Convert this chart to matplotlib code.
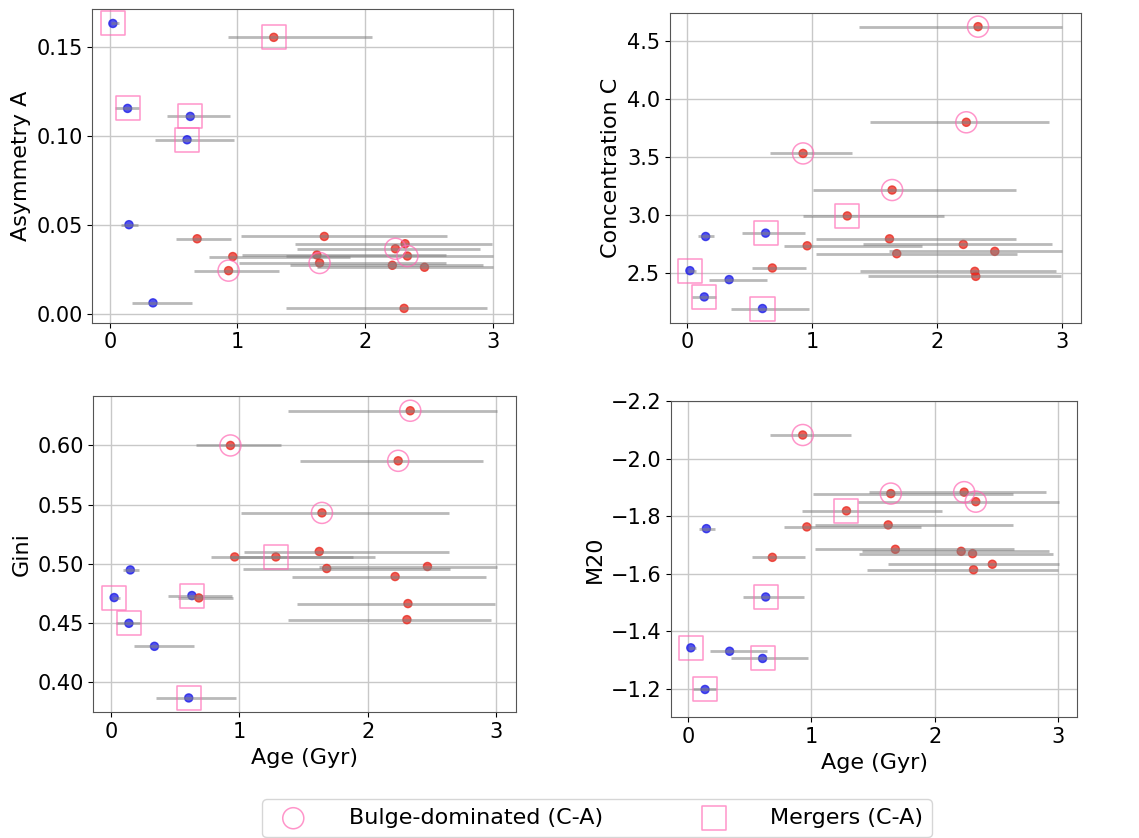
import matplotlib.pyplot as plt

# galaxy ages (Gyr) and asymmetric age errors
age = [0.024, 0.139, 0.150, 0.338, 0.605, 0.630,
       0.684, 0.930, 0.963, 1.284, 1.622, 1.643, 1.680,
       2.213, 2.237, 2.305, 2.313, 2.331, 2.465]
age_lo = [0.012, 0.100, 0.060, 0.162, 0.255, 0.185,
          0.162, 0.267, 0.187, 0.357, 0.590, 0.632, 0.650,
          0.803, 0.768, 0.923, 0.861, 0.953, 0.845]
age_hi = [0.045, 0.090, 0.070, 0.305, 0.370, 0.313,
          0.266, 0.392, 0.921, 0.771, 1.010, 0.989, 0.960,
          0.707, 0.661, 0.653, 0.682, 0.674, 0.540]

asym = [0.1634, 0.1157, 0.0504, 0.0065, 0.0981, 0.1112,
        0.0425, 0.0246, 0.0325, 0.1556, 0.0334, 0.0289, 0.0438,
        0.0276, 0.0369, 0.0034, 0.0397, 0.0328, 0.0265]
conc = [2.520, 2.294, 2.814, 2.443, 2.194, 2.843,
        2.543, 3.529, 2.734, 2.991, 2.794, 3.214, 2.666,
        2.746, 3.797, 2.514, 2.471, 4.620, 2.686]
gini = [0.4712, 0.4494, 0.4946, 0.4299, 0.3862, 0.4729,
        0.4709, 0.6000, 0.5056, 0.5056, 0.5102, 0.5429, 0.4958,
        0.4890, 0.5870, 0.4525, 0.4661, 0.6294, 0.4975]
m20 = [-1.342, -1.197, -1.757, -1.330, -1.305, -1.519,
       -1.657, -2.083, -1.763, -1.819, -1.770, -1.879, -1.685,
       -1.678, -1.884, -1.670, -1.614, -1.851, -1.633]

young = [True] * 6 + [False] * 13
bulge = [7, 11, 14, 17]          # indices of bulge-dominated (C-A)
merger = [0, 1, 4, 5, 9]         # indices of mergers (C-A)

fig = plt.figure(figsize=(11.39, 8.38), dpi=100)
boxes = [(0.081, 0.615, 0.369, 0.374),
         (0.588, 0.615, 0.361, 0.370),
         (0.082, 0.150, 0.371, 0.377),
         (0.589, 0.144, 0.357, 0.377)]
panels = [(asym, 'Asymmetry A'), (conc, 'Concentration C'),
          (gini, 'Gini'), (m20, 'M20')]

for k, (vals, lab) in enumerate(panels):
    ax = fig.add_axes(boxes[k])
    cols = ['#1a1ae6' if y else '#e8281e' for y in young]
    ax.scatter(age, vals, c=cols, s=34, alpha=0.75, zorder=2)
    ax.errorbar(age, vals, xerr=[age_lo, age_hi], fmt='none', ecolor='gray',
                elinewidth=2, alpha=0.55, zorder=3)
    ax.scatter([age[i] for i in bulge], [vals[i] for i in bulge], s=230,
               marker='o', facecolors='none', edgecolors='hotpink', alpha=0.7,
               linewidths=1.1, zorder=4, label='Bulge-dominated (C-A)')
    ax.scatter([age[i] for i in merger], [vals[i] for i in merger], s=300,
               marker='s', facecolors='none', edgecolors='hotpink', alpha=0.7,
               linewidths=1.1, zorder=4, label='Mergers (C-A)')
    ax.set_ylabel(lab, fontsize=16)
    ax.tick_params(labelsize=15)
    ax.grid(True, color='#c8c8c8', lw=1)
    ax.set_axisbelow(True)
    ax.set_xticks([0, 1, 2, 3])
    for s in ax.spines.values():
        s.set_color('#555555')
    if k >= 2:
        ax.set_xlabel('Age (Gyr)', fontsize=16)
    if k == 0:
        ax.set_yticks([0.0, 0.05, 0.10, 0.15])
    if k == 3:
        ax.set_ylim(-1.1, -2.2)

handles, labels = ax.get_legend_handles_labels()
fig.legend(handles, labels, loc='lower center', bbox_to_anchor=(0.524, -0.012),
           ncol=2, fontsize=16, scatterpoints=1, columnspacing=4,
           handletextpad=1.5, borderpad=0.4)

fig.savefig('out.png', dpi=100)
